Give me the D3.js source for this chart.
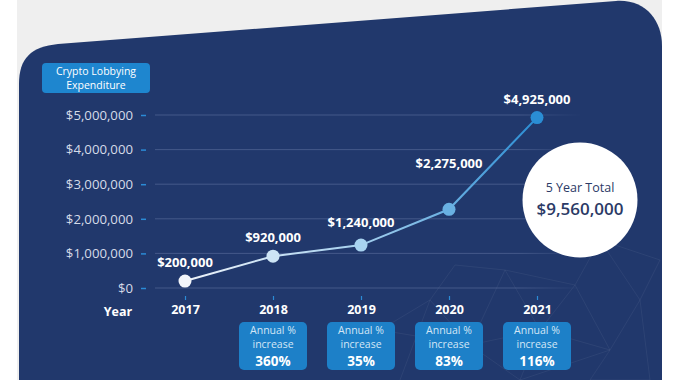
<!DOCTYPE html>
<html>
<head>
<meta charset="utf-8">
<script src="https://cdn.jsdelivr.net/npm/d3@7"></script>
<style>
  html, body { margin: 0; padding: 0; background: #ffffff; }
  svg { display: block; font-family: "Open Sans", "DejaVu Sans", sans-serif; }
</style>
</head>
<body>
<svg id="chart" width="690" height="380"></svg>
<script>
// ---- data ----
const years = ["2017", "2018", "2019", "2020", "2021"];
const expenditure = [200000, 920000, 1240000, 2275000, 4925000];
const annualIncrease = [null, 360, 35, 83, 116];
const yTicks = [0, 1000000, 2000000, 3000000, 4000000, 5000000];
const totalLabel = "5 Year Total";
const totalValue = 9560000;
const legendLines = ["Crypto Lobbying", "Expenditure"];

// ---- layout ----
const svg = d3.select("#chart");
const navy = "#21386c";
const boxBlue = "#1d80c8";
const fmt = d3.format("$,");

// backgrounds
svg.append("rect").attr("x", 17).attr("y", 0).attr("width", 645).attr("height", 380).attr("fill", "#efefef");
svg.append("path")
  .attr("d", "M19,380 L19,84 C19,58 31,47 58,44 L616,1 C645,-1 662,20 662,46 L662,380 Z")
  .attr("fill", navy);

// faint geometric decoration
const deco = svg.append("g").attr("stroke", "#ffffff").attr("stroke-opacity", 0.07).attr("stroke-width", 0.8).attr("fill", "none");
const nodes = [[400,380],[430,300],[470,345],[505,270],[540,330],[575,285],[610,350],[640,300],[660,260],[600,240],[520,380],[590,380],[455,265],[650,380],[380,330]];
const links = [[0,1],[1,2],[2,3],[3,4],[4,5],[5,6],[6,7],[7,8],[5,9],[9,8],[4,10],[6,11],[2,10],[1,12],[12,3],[7,13],[11,13],[14,1],[14,2],[4,6],[3,5],[9,7],[10,6],[2,4]];
links.forEach(([a,b]) => deco.append("line")
  .attr("x1", nodes[a][0]).attr("y1", nodes[a][1]).attr("x2", nodes[b][0]).attr("y2", nodes[b][1]));

// scales
const x = d3.scalePoint().domain(years).range([185, 537]);
const y = d3.scaleLinear().domain([0, 5000000]).range([288, 115]);

// gridlines
const defs = svg.append("defs");
const gridGrad = defs.append("linearGradient").attr("id", "gridfade")
  .attr("gradientUnits", "userSpaceOnUse").attr("x1", 155).attr("x2", 582).attr("y1", 0).attr("y2", 0);
gridGrad.append("stop").attr("offset", 0).attr("stop-color", "#5a6d9c").attr("stop-opacity", 0.6);
gridGrad.append("stop").attr("offset", 0.85).attr("stop-color", "#5a6d9c").attr("stop-opacity", 0.6);
gridGrad.append("stop").attr("offset", 1).attr("stop-color", "#5a6d9c").attr("stop-opacity", 0);

svg.append("g").selectAll("line").data(yTicks).join("line")
  .attr("x1", 155).attr("x2", 582)
  .attr("y1", d => y(d)).attr("y2", d => y(d))
  .attr("stroke", "url(#gridfade)").attr("stroke-width", 1);

// y axis
const yAxis = svg.append("g").attr("transform", "translate(146,0)")
  .call(d3.axisLeft(y).tickValues(yTicks).tickFormat(fmt).tickSize(5).tickPadding(8));
yAxis.select(".domain").remove();
yAxis.selectAll(".tick line").attr("stroke", "#2b8bd6").attr("stroke-width", 1.5);
yAxis.selectAll(".tick text").attr("fill", "#d5dbe8").attr("font-size", 13.2).attr("font-family", "\"Open Sans\", sans-serif");

// x axis
const xAxis = svg.append("g").attr("transform", "translate(0,296)")
  .call(d3.axisBottom(x).tickSize(4).tickPadding(5));
xAxis.select(".domain").remove();
xAxis.selectAll(".tick line").attr("stroke", "#2b8bd6").attr("stroke-width", 1.2);
xAxis.selectAll(".tick text").attr("fill", "#ffffff").attr("font-size", 12.5).attr("font-weight", 700)
  .attr("font-family", "\"Open Sans\", sans-serif");
svg.append("text").attr("x", 118).attr("y", 316).attr("text-anchor", "middle")
  .attr("fill", "#ffffff").attr("font-size", 12.5).attr("font-weight", 700).text("Year");

// line gradient
const lineGrad = defs.append("linearGradient").attr("id", "lineGrad")
  .attr("gradientUnits", "userSpaceOnUse").attr("x1", x(years[0])).attr("x2", x(years[years.length-1])).attr("y1", 0).attr("y2", 0);
lineGrad.append("stop").attr("offset", 0).attr("stop-color", "#eef3fa");
lineGrad.append("stop").attr("offset", 0.5).attr("stop-color", "#a5d0ee");
lineGrad.append("stop").attr("offset", 1).attr("stop-color", "#2a8dd4");

const pts = years.map((yr, i) => ({ year: yr, value: expenditure[i], i }));
svg.append("path").datum(pts)
  .attr("d", d3.line().x(d => x(d.year)).y(d => y(d.value)))
  .attr("fill", "none").attr("stroke", "url(#lineGrad)").attr("stroke-width", 2);

const pointColor = d3.scaleLinear().domain([0, 2, 4]).range(["#f2f5fa", "#a8d3f0", "#2a8dd4"]);
svg.append("g").selectAll("circle").data(pts).join("circle")
  .attr("cx", d => x(d.year)).attr("cy", d => y(d.value)).attr("r", 6.5)
  .attr("fill", d => pointColor(d.i));

// value labels
const labelDy = [-14, -14, -18, -41, -14];
svg.append("g").selectAll("text").data(pts).join("text")
  .attr("x", d => x(d.year)).attr("y", d => y(d.value) + labelDy[d.i])
  .attr("text-anchor", "middle").attr("fill", "#ffffff")
  .attr("font-size", 13).attr("font-weight", 700)
  .text(d => fmt(d.value));

// annual increase boxes
const boxes = svg.append("g").selectAll("g").data(pts.filter(d => annualIncrease[d.i] != null)).join("g")
  .attr("transform", d => `translate(${x(d.year)},0)`);
boxes.append("rect").attr("x", -34).attr("y", 322).attr("width", 68).attr("height", 48).attr("rx", 5)
  .attr("fill", boxBlue);
boxes.append("text").attr("y", 333.6).attr("text-anchor", "middle").attr("fill", "#d3e6f6")
  .attr("font-size", 10.5).text("Annual %");
boxes.append("text").attr("y", 348).attr("text-anchor", "middle").attr("fill", "#d3e6f6")
  .attr("font-size", 10.5).text("increase");
boxes.append("text").attr("y", 365.6).attr("text-anchor", "middle").attr("fill", "#ffffff")
  .attr("font-size", 13.5).attr("font-weight", 700).text(d => annualIncrease[d.i] + "%");

// legend box
svg.append("rect").attr("x", 42).attr("y", 63).attr("width", 108).attr("height", 30).attr("rx", 4).attr("fill", "#1e86cf");
svg.append("g").selectAll("text").data(legendLines).join("text")
  .attr("x", 96).attr("y", (d, i) => 74.9 + i * 14.4).attr("text-anchor", "middle")
  .attr("fill", "#ffffff").attr("font-size", 10.5).text(d => d);

// total circle
svg.append("circle").attr("cx", 580).attr("cy", 200).attr("r", 57.5).attr("fill", "#ffffff");
svg.append("text").attr("x", 580).attr("y", 192.3).attr("text-anchor", "middle")
  .attr("fill", "#2b3a66").attr("font-size", 12.5).attr("font-weight", 500).text(totalLabel);
svg.append("text").attr("x", 580).attr("y", 215).attr("text-anchor", "middle")
  .attr("fill", "#2b3a66").attr("font-size", 17).attr("font-weight", 600).text(fmt(totalValue));
</script>
</body>
</html>
